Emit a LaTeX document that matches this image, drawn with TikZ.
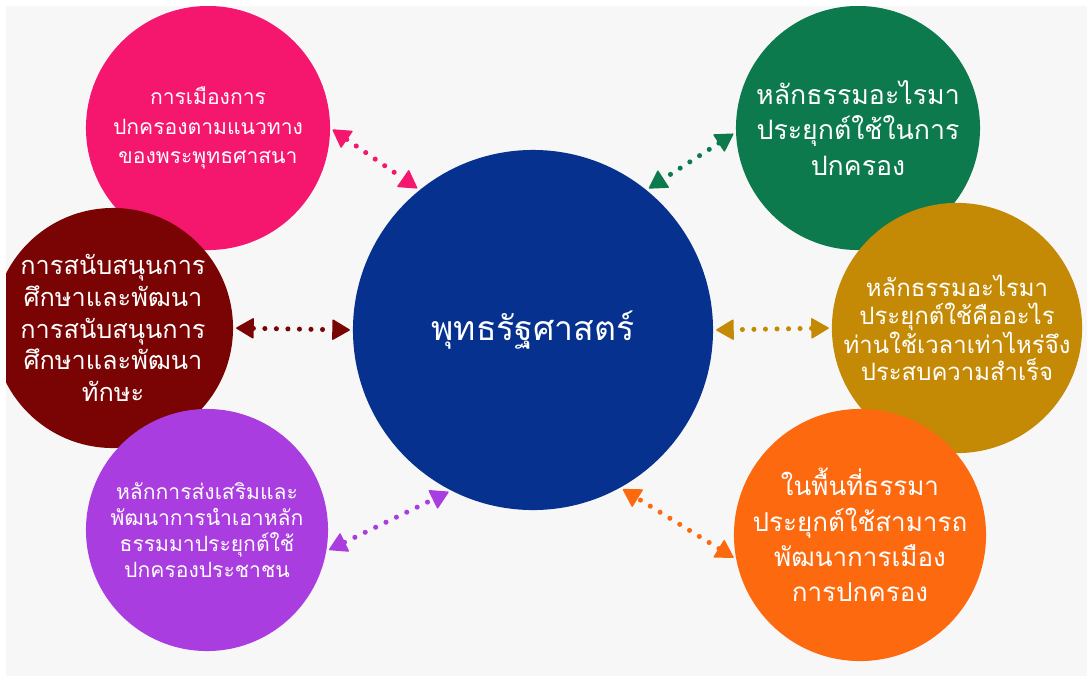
\documentclass[tikz,border=0pt]{standalone}
\usepackage{fontspec}
\newfontfamily\thaifont[Script=Thai]{Loma}
\usetikzlibrary{arrows.meta}

\definecolor{paper}{HTML}{F7F7F7}
\definecolor{hubblue}{HTML}{06318E}
\definecolor{rosepink}{HTML}{F5166E}
\definecolor{leafgreen}{HTML}{0C7A4C}
\definecolor{wine}{HTML}{7A0303}
\definecolor{ochre}{HTML}{C58A05}
\definecolor{violet}{HTML}{AA3DE0}
\definecolor{tangerine}{HTML}{FC690F}

\begin{document}
\begin{tikzpicture}[x=0.025cm,y=-0.025cm,
    bubble/.style={circle,inner sep=0pt,text=white,align=center},
    link/.style={line width=3.6pt,line cap=round,dash pattern=on 0pt off 8.2pt,
      shorten <=2pt,shorten >=2pt,
      {Triangle[length=13pt,width=15pt,line width=1pt,round]}-{Triangle[length=13pt,width=15pt,line width=1pt,round]}}]
        \useasboundingbox (0,0) rectangle (1087,680);
        \fill [paper] (6,6) rectangle (1087,676);

        \begin{scope}
        \clip (6,6) rectangle (1087,676);
        % centre
        \node [bubble,fill=hubblue,minimum size=9cm,font={\thaifont\fontsize{24}{29}\selectfont}] (hub) at (533,330) {พุทธรัฐศาสตร์};

        % left side
        \node [bubble,fill=rosepink,minimum size=6.1cm,font={\thaifont\fontsize{15}{21}\selectfont}] (politics) at (208,128)
          {การเมืองการ\\ปกครองตามแนวทาง\\ของพระพุทธศาสนา};
        \node [bubble,fill=wine,minimum size=6cm,font={\thaifont\fontsize{18}{22.5}\selectfont}] (support) at (113,328)
          {การสนับสนุนการ\\ศึกษาและพัฒนา\\การสนับสนุนการ\\ศึกษาและพัฒนา\\ทักษะ};
        \node [bubble,fill=violet,minimum size=6.05cm,font={\thaifont\fontsize{15}{18.5}\selectfont}] (promote) at (207,530)
          {หลักการส่งเสริมและ\\พัฒนาการนำเอาหลัก\\ธรรมมาประยุกต์ใช้\\ปกครองประชาชน};

        % right side
        \node [bubble,fill=leafgreen,minimum size=6.1cm,font={\thaifont\fontsize{19}{25.5}\selectfont}] (dhamma) at (858,128)
          {หลักธรรมอะไรมา\\ประยุกต์ใช้ในการ\\ปกครอง};
        \node [bubble,fill=ochre,minimum size=6.2cm,font={\thaifont\fontsize{17}{19.5}\selectfont}] (success) at (957,328)
          {หลักธรรมอะไรมา\\ประยุกต์ใช้คืออะไร\\ท่านใช้เวลาเท่าไหร่จึง\\ประสบความสำเร็จ};
        \node [bubble,fill=tangerine,minimum size=6.1cm,font={\thaifont\fontsize{18.5}{25}\selectfont}] (area) at (860,535)
          {ในพื้นที่ธรรมา\\ประยุกต์ใช้สามารถ\\พัฒนาการเมือง\\การปกครอง};
        \end{scope}

        % links
        \draw [link,rosepink] (politics.0) -- (hub.129);
        \draw [link,wine] (support.0) -- (hub.180);
        \draw [link,violet] (promote.-10) -- (hub.243);
        \draw [link,leafgreen] (dhamma.182) -- (hub.51);
        \draw [link,ochre] (success.180) -- (hub.0);
        \draw [link,tangerine] (area.191) -- (hub.299);
\end{tikzpicture}
\end{document}
